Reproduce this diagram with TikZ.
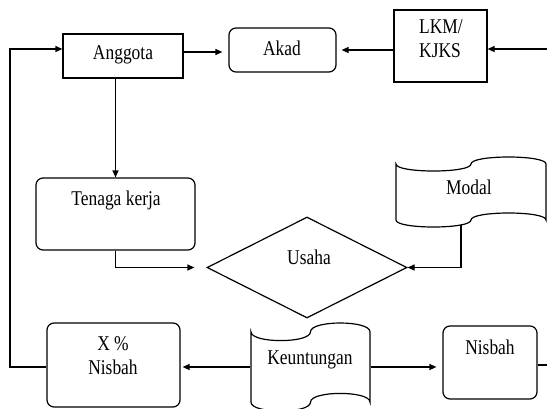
\documentclass[tikz,border=0pt]{standalone}
\usepackage{fontspec}
\setmainfont{Liberation Serif}[FakeStretch=0.83]
\usetikzlibrary{arrows.meta,shapes.geometric}
\begin{document}
\begin{tikzpicture}[x=1pt,y=-1pt,
  font=\fontsize{21}{25}\selectfont,
  line width=1.2pt,
  box/.style={draw, rectangle, inner sep=0pt, line width=1.2pt},
  rbox/.style={box, rounded corners=7pt},
  txt/.style={inner sep=0pt, anchor=base},
  tapenode/.style={inner sep=0pt, draw=none},
  arr/.style={-{Triangle[length=7pt,width=6pt]}},
  pics/tape/.style 2 args={code={
    \draw[line width=1.2pt] ({-#1/2},{-0.4*#2}) .. controls ({-#1/2},{-0.2667*#2}) and (0,{-0.2667*#2}) .. (0,{-0.4*#2})
      .. controls (0,{-0.5333*#2}) and ({#1/2},{-0.5333*#2}) .. ({#1/2},{-0.4*#2})
      -- ({#1/2},{0.4*#2})
      .. controls ({#1/2},{0.2667*#2}) and (0,{0.2667*#2}) .. (0,{0.4*#2})
      .. controls (0,{0.5333*#2}) and ({-#1/2},{0.5333*#2}) .. ({-#1/2},{0.4*#2}) -- cycle;
  }}]
\clip (0,0) rectangle (547,408);

% boxes
\node[box, minimum width=120pt, minimum height=44pt] (anggota) at (123,56) {};
\node[txt] (anggotaT) at (123,59) {Anggota};

\node[rbox, minimum width=107pt, minimum height=44pt] (akad) at (282.5,50) {};
\node[txt] (akadT) at (282,55) {Akad};

\node[box, minimum width=93pt, minimum height=72pt] (lkm) at (440.5,46) {};
\node[txt] (lkmT1) at (441,33) {LKM/};
\node[txt] (lkmT2) at (440,57) {KJKS};

\node[rbox, minimum width=159pt, minimum height=72pt] (tenaga) at (115.5,214) {};
\node[txt] (tenagaT) at (116,205) {Tenaga kerja};

\node[draw, diamond, minimum width=200pt, minimum height=101pt, inner sep=0pt] (usaha) at (307,267.5) {};
\node[txt] (usahaT) at (309,264) {Usaha};

\node[tapenode, minimum width=150pt, minimum height=70pt] (modal) at (471,192) {};
\pic at (modal) {tape={150}{70}};
\node[txt] (modalT) at (469,194) {Modal};

\node[tapenode, minimum width=119pt, minimum height=88pt] (keu) at (310.5,367) {};
\pic at (keu) {tape={119}{88}};
\node[txt] (keuT) at (310,364) {Keuntungan};

\node[rbox, minimum width=94pt, minimum height=73pt] (nisbah) at (490,362.5) {};
\node[txt] (nisbahT) at (490,354) {Nisbah};

\node[rbox, minimum width=133pt, minimum height=84pt] (xn) at (113.5,365) {};
\node[txt] (xnT1) at (113,350) {X \%};
\node[txt] (xnT2) at (113,374) {Nisbah};

% coordinates
\coordinate (a1) at (183,52);
\coordinate (rin) at (547,49);
\coordinate (mout) at (461,225);
\coordinate (rout) at (547,365);
\coordinate (lp) at (10,367);
\coordinate (atop) at (10,49);

% connectors
\draw[arr, shorten >=6pt] (a1) -- (a1 -| akad.west);
\draw[arr, shorten >=5pt] (akad.east -| lkm.west) -- (akad.east);
\draw[arr] (rin) -- (rin -| lkm.east);
\draw[arr] (tenaga.north |- anggota.south) -- (tenaga.north);
\draw[arr, shorten >=12pt] (tenaga.south) |- (usaha.west);
\draw[arr] (mout) |- (usaha.east);
\draw[arr, shorten >=6pt] (keu.east) -- (keu.east -| nisbah.west);
\draw[arr, shorten >=2pt] (keu.west) -- (keu.west -| xn.east);
\draw (rout -| nisbah.east) -- (rout);
\draw[arr] (lp -| xn.west) -- (lp) -- (atop) -- (atop -| anggota.west);
\end{tikzpicture}
\end{document}
